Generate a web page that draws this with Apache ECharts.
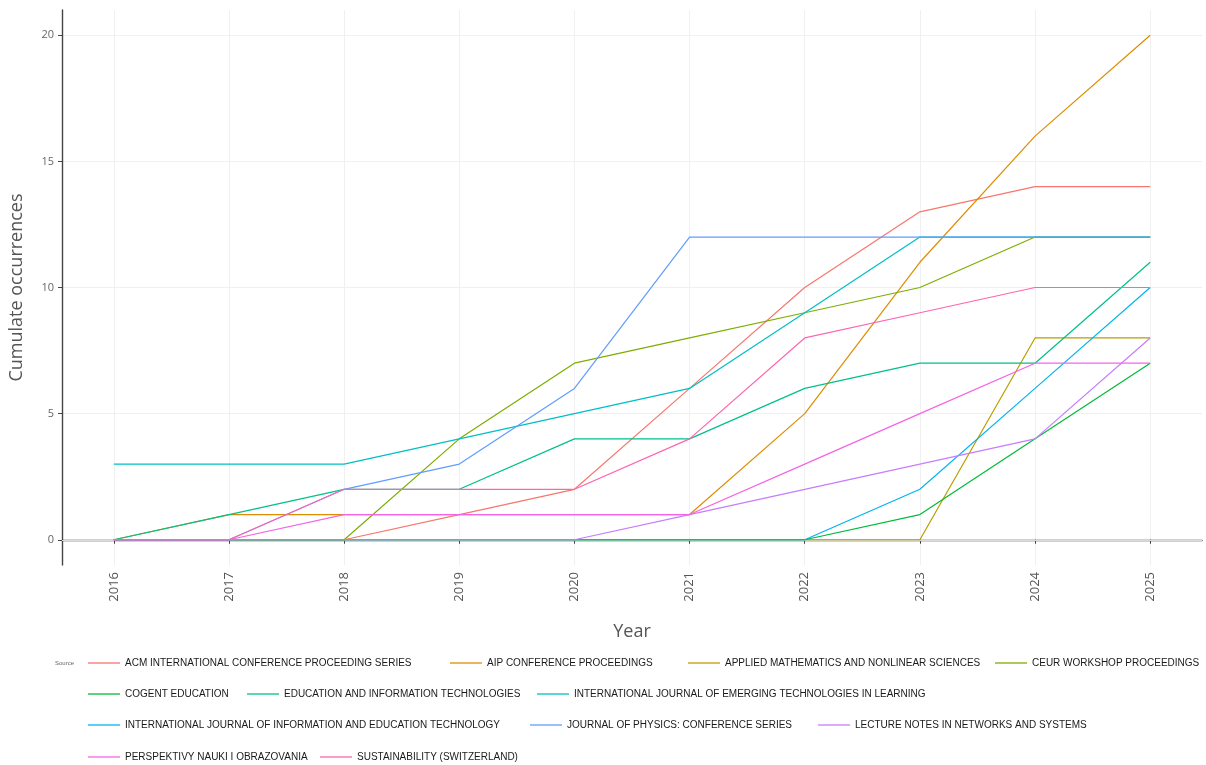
<!DOCTYPE html>
<html>
<head>
<meta charset="utf-8">
<script src="https://cdn.jsdelivr.net/npm/echarts@6/dist/echarts.min.js"></script>
<style>
  html, body { margin: 0; padding: 0; background: #fff; }
  #chart { width: 1206px; height: 765px; }
</style>
</head>
<body>
<div id="chart"></div>
<script>
// Years on the x axis
const years = [2016, 2017, 2018, 2019, 2020, 2021, 2022, 2023, 2024, 2025];
const yTicks = [0, 5, 10, 15, 20];

// Cumulative occurrences per source
const acm = [0, 0, 0, 1, 2, 6, 10, 13, 14, 14];
const aip = [0, 1, 1, 1, 1, 1, 5, 11, 16, 20];
const appliedMath = [0, 0, 0, 0, 0, 0, 0, 0, 8, 8];
const ceur = [0, 0, 0, 4, 7, 8, 9, 10, 12, 12];
const cogent = [0, 0, 0, 0, 0, 0, 0, 1, 4, 7];
const eduInfoTech = [0, 1, 2, 2, 4, 4, 6, 7, 7, 11];
const ijet = [3, 3, 3, 4, 5, 6, 9, 12, 12, 12];
const ijiet = [0, 0, 0, 0, 0, 0, 0, 2, 6, 10];
const jphys = [0, 0, 2, 3, 6, 12, 12, 12, 12, 12];
const lectureNotes = [0, 0, 0, 0, 0, 1, 2, 3, 4, 8];
const perspektivy = [0, 0, 1, 1, 1, 1, 3, 5, 7, 7];
const sustainability = [0, 0, 2, 2, 2, 4, 8, 9, 10, 10];

const sourceNames = [
  'ACM INTERNATIONAL CONFERENCE PROCEEDING SERIES',
  'AIP CONFERENCE PROCEEDINGS',
  'APPLIED MATHEMATICS AND NONLINEAR SCIENCES',
  'CEUR WORKSHOP PROCEEDINGS',
  'COGENT EDUCATION',
  'EDUCATION AND INFORMATION TECHNOLOGIES',
  'INTERNATIONAL JOURNAL OF EMERGING TECHNOLOGIES IN LEARNING',
  'INTERNATIONAL JOURNAL OF INFORMATION AND EDUCATION TECHNOLOGY',
  'JOURNAL OF PHYSICS: CONFERENCE SERIES',
  'LECTURE NOTES IN NETWORKS AND SYSTEMS',
  'PERSPEKTIVY NAUKI I OBRAZOVANIA',
  'SUSTAINABILITY (SWITZERLAND)'
];
const sourceValues = [acm, aip, appliedMath, ceur, cogent, eduInfoTech, ijet, ijiet, jphys, lectureNotes, perspektivy, sustainability];
const palette = ['#F8766D', '#DE8C00', '#B79F00', '#7CAE00', '#00BA38', '#00C08B',
                 '#00BFC4', '#00B4F0', '#619CFF', '#C77CFF', '#F564E3', '#FF64B0'];

const chart = echarts.init(document.getElementById('chart'), null, { renderer: 'canvas' });

const series = sourceNames.map((name, i) => ({
  name: name,
  type: 'line',
  data: years.map((y, j) => [y, sourceValues[i][j]]),
  showSymbol: false,
  symbol: 'none',
  lineStyle: { width: 1.2, color: palette[i] },
  itemStyle: { color: palette[i] },
  emphasis: { disabled: true },
  z: 10 + i,
  animation: false
}));

// Legend entries laid out in four wrapped rows under the plot
const legendSlots = [
  [0, 88, 658], [1, 450, 658], [2, 688, 658], [3, 995, 658],
  [4, 88, 689], [5, 247, 689], [6, 537, 689],
  [7, 88, 720], [8, 530, 720], [9, 818, 720],
  [10, 88, 752], [11, 320, 752]
];
const legends = legendSlots.map(([k, left, top]) => ({
  show: true,
  left: left,
  top: top,
  orient: 'horizontal',
  padding: 0,
  data: [sourceNames[k]],
  icon: 'rect',
  itemWidth: 32,
  itemHeight: 1.3,
  selectedMode: false,
  textStyle: { fontFamily: 'Liberation Sans', fontSize: 10, color: '#1a1a1a' }
}));

chart.setOption({
  animation: false,
  backgroundColor: '#ffffff',
  color: palette,
  grid: { left: 60, right: 4, top: 10, bottom: 200, containLabel: false },
  title: {
    text: 'Source',
    left: 50,
    top: 655,
    textStyle: { fontFamily: 'Liberation Sans', fontSize: 6, fontWeight: 'normal', color: '#666' }
  },
  legend: legends,
  xAxis: {
    type: 'value',
    min: 2015.55,
    max: 2025.45,
    name: 'Year',
    nameLocation: 'middle',
    nameGap: 58,
    nameTextStyle: { fontFamily: 'Open Sans', fontSize: 18, color: '#555' },
    axisLine: { show: true, lineStyle: { color: '#444', width: 1.4 } },
    axisTick: { show: true, customValues: years, length: 4, lineStyle: { color: '#444' } },
    axisLabel: {
      customValues: years,
      rotate: 90,
      margin: 7,
      fontFamily: 'Open Sans',
      fontSize: 13,
      color: '#555',
      formatter: v => String(v)
    },
    splitLine: { show: true, lineStyle: { color: '#f0f0f0', width: 1 } }
  },
  yAxis: {
    type: 'value',
    min: -1,
    max: 21,
    name: 'Cumulate occurrences',
    nameLocation: 'middle',
    nameGap: 36,
    nameTextStyle: { fontFamily: 'Open Sans', fontSize: 18, color: '#555' },
    axisLine: { show: true, lineStyle: { color: '#444', width: 1.4 } },
    axisTick: { show: true, customValues: yTicks, length: 4, lineStyle: { color: '#444' } },
    axisLabel: {
      customValues: yTicks,
      margin: 8,
      fontFamily: 'Open Sans',
      fontSize: 11,
      color: '#666',
      formatter: v => String(v)
    },
    splitLine: { show: true, lineStyle: { color: '#f0f0f0', width: 1 } }
  },
  series: [{
    // Reference line at zero, kept underneath the source lines
    type: 'line',
    data: [],
    silent: true,
    z: 1,
    markLine: {
      silent: true,
      z: 1,
      symbol: 'none',
      label: { show: false },
      lineStyle: { color: '#d9d9d9', width: 1, type: 'solid' },
      data: [{ yAxis: 0 }]
    }
  }].concat(series)
});
</script>
</body>
</html>
